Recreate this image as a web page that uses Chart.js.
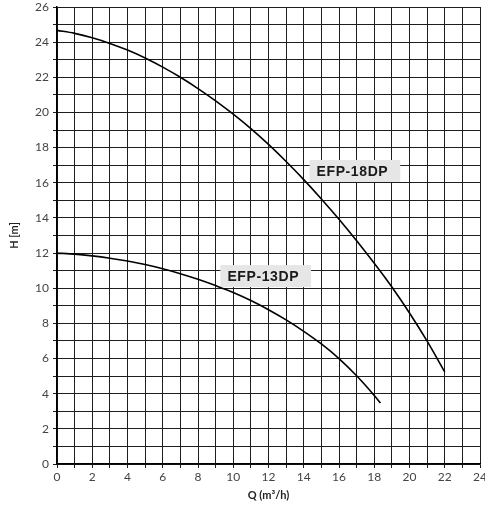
<!DOCTYPE html>
<html>
<head>
<meta charset="utf-8">
<script src="https://cdn.jsdelivr.net/npm/chart.js@4.4.1/dist/chart.umd.min.js"></script>
<style>
  html, body { margin: 0; padding: 0; background: #fff; }
  #wrap { width: 485px; height: 514px; position: relative; }
</style>
</head>
<body>
<div id="wrap"><canvas id="c"></canvas></div>
<script>
// ---- data ----
const q18 = [0, 1, 2, 3, 4, 5, 6, 7, 8, 9, 10, 11, 12, 13, 14, 15, 16, 17, 18, 19, 20, 21, 22];
const h18 = [24.67, 24.50, 24.25, 23.93, 23.55, 23.10, 22.58, 22.00, 21.36, 20.66, 19.90, 19.08, 18.18, 17.21, 16.18, 15.08, 13.92, 12.70, 11.42, 10.07, 8.59, 6.99, 5.24];
const q13 = [0, 1, 2, 3, 4, 5, 6, 7, 8, 9, 10, 11, 12, 13, 14, 15, 16, 17, 18, 18.35];
const h13 = [12.0, 11.94, 11.84, 11.71, 11.55, 11.35, 11.11, 10.83, 10.51, 10.15, 9.76, 9.30, 8.78, 8.20, 7.55, 6.83, 6.00, 5.02, 3.90, 3.47];
const seriesNames = ['EFP-18DP', 'EFP-13DP'];
const xTickLabels = ['0','2','4','6','8','10','12','14','16','18','20','22','24'];
const yTickLabels = ['0','2','4','6','8','10','12','14','16','18','20','22','24','26'];
const xTitle = 'Q (m³/h)';
const yTitle = 'H [m]';
// label anchors (data coords: left edge Q, centre H)
const labelAnchors = [{ x: 14.33, y: 16.67 }, { x: 9.27, y: 10.69 }];

const toPts = (xs, ys) => xs.map((x, i) => ({ x: x, y: ys[i] }));

const labelPlugin = {
  id: 'curveLabels',
  beforeDatasetsDraw(chart) {
    const { ctx, scales } = chart;
    ctx.save();
    ctx.font = 'bold 14px "Liberation Sans", Arial, sans-serif';
    if ('letterSpacing' in ctx) ctx.letterSpacing = '0.6px';
    ctx.textBaseline = 'middle';
    ctx.textAlign = 'left';
    seriesNames.forEach((name, i) => {
      const px = scales.x.getPixelForValue(labelAnchors[i].x);
      const py = scales.y.getPixelForValue(labelAnchors[i].y);
      const w = ctx.measureText(name).width;
      ctx.fillStyle = '#e6e6e6';
      ctx.fillRect(px, py - 11, w + 19, 22);
      ctx.fillStyle = '#1a1a1a';
      ctx.fillText(name, px + 7, py + 1);
    });
    ctx.restore();
  }
};

const gridColor = '#1e1e1e';

new Chart(document.getElementById('c'), {
  type: 'scatter',
  data: {
    datasets: [
      { label: seriesNames[0], data: toPts(q18, h18), showLine: true, borderColor: '#000', borderWidth: 1.6, pointRadius: 0, cubicInterpolationMode: 'monotone', fill: false },
      { label: seriesNames[1], data: toPts(q13, h13), showLine: true, borderColor: '#000', borderWidth: 1.6, pointRadius: 0, cubicInterpolationMode: 'monotone', fill: false }
    ]
  },
  options: {
    responsive: true,
    maintainAspectRatio: false,
    animation: false,
    layout: { padding: { left: 0, right: 5, top: 7, bottom: 0 } },
    plugins: { legend: { display: false }, tooltip: { enabled: false } },
    scales: {
      x: {
        type: 'linear', min: 0, max: 24,
        afterFit(s) { s.height = 50; s.paddingLeft = 0; s.paddingRight = 0; },
        grid: { color: gridColor, lineWidth: 1, tickLength: 4, drawTicks: true },
        border: { color: '#000', width: 1.5 },
        ticks: {
          stepSize: 1, padding: 2, color: '#444', maxRotation: 0, autoSkip: false,
          font: { family: 'Lato, "Noto Sans", sans-serif', size: 12 },
          callback: (v) => (v % 2 === 0 ? xTickLabels[v / 2] : '')
        },
        title: { display: true, text: xTitle, color: '#222', padding: { top: 0, bottom: 12 },
          font: { family: 'Lato, "Noto Sans", sans-serif', size: 11, weight: 'bold' } }
      },
      y: {
        type: 'linear', min: 0, max: 26,
        afterFit(s) { s.width = 57; s.paddingTop = 0; s.paddingBottom = 0; },
        grid: { color: gridColor, lineWidth: 1, tickLength: 4, drawTicks: true },
        border: { color: '#000', width: 1.5 },
        ticks: {
          stepSize: 1, padding: 4, color: '#444', autoSkip: false,
          font: { family: 'Lato, "Noto Sans", sans-serif', size: 12 },
          callback: (v) => (v % 2 === 0 ? yTickLabels[v / 2] : '')
        },
        title: { display: true, text: yTitle, color: '#222', padding: { top: 8, bottom: 0 },
          font: { family: 'Lato, "Noto Sans", sans-serif', size: 11, weight: 'bold' } }
      }
    }
  },
  plugins: [labelPlugin]
});
</script>
</body>
</html>
